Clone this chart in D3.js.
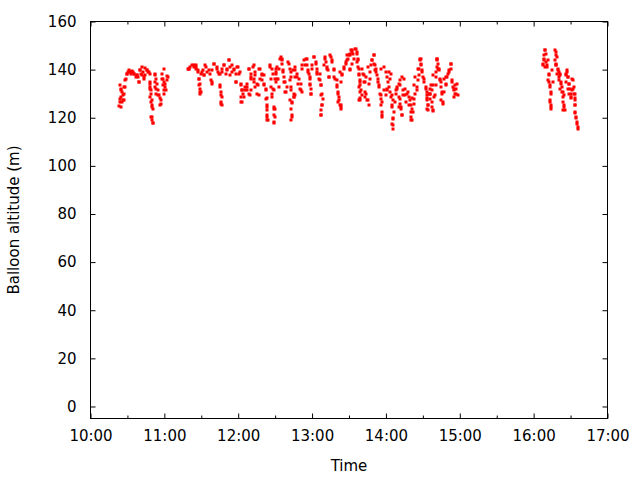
<!DOCTYPE html>
<html>
<head>
<meta charset="utf-8">
<script src="https://cdn.jsdelivr.net/npm/d3@7"></script>
<style>
  body { margin: 0; background: #fff; }
  text { font-family: "DejaVu Sans", sans-serif; font-size: 15px; fill: #000; }
</style>
</head>
<body>
<div id="chart"></div>
<script>
// minutes after 10:00 and altitude (m) in several passes
var firstTimes = [23.0, 23.8, 24.9, 24.9, 25.7, 26.5, 27.6, 28.4, 29.2, 29.8, 31.0, 32.5, 34.0, 35.2, 36.6, 37.9, 39.2, 40.6, 41.5, 42.0, 43.3, 44.0, 45.5, 47.4, 48.2, 48.7, 48.7, 49.3, 50.1, 50.1, 50.6, 52.3, 52.8, 53.6, 54.7, 56.3, 56.9, 58.2, 59.0, 59.6, 60.1, 60.9, 62.3];
var firstAlt   = [125.0, 126.6, 128.6, 132.1, 130.7, 127.3, 130.0, 132.8, 136.2, 138.3, 140.0, 139.0, 139.5, 138.3, 136.9, 137.6, 134.8, 139.7, 141.0, 137.6, 136.9, 140.5, 139.7, 139.0, 134.2, 132.1, 128.6, 126.5, 124.5, 120.3, 118.0, 137.6, 134.8, 132.1, 129.3, 128.0, 125.9, 136.2, 133.5, 140.4, 131.4, 134.2, 137.3];

var firstTimes2 = [23.8, 24.9, 26.5, 27.1, 23.8, 24.4, 25.7, 27.6, 28.4, 29.3, 30.3, 32.0, 33.0, 34.7, 35.7, 37.4, 38.5, 40.1, 41.2, 42.8, 43.9, 45.5, 46.6, 48.2, 39.3, 43.3, 48.2, 48.7, 49.3, 49.3, 50.1, 50.1, 50.9, 49.3, 50.1, 50.6, 52.3, 53.6, 54.2, 52.8, 54.7, 53.6, 55.5, 56.9, 56.3, 58.2, 59.0, 60.1, 60.9, 61.7, 62.3, 62.8, 59.6];
var firstAlt2   = [133.5, 131.4, 129.3, 127.3, 127.9, 124.5, 126.6, 132.8, 135.5, 138.3, 139.0, 139.0, 138.3, 139.0, 138.3, 137.6, 136.9, 139.7, 138.3, 139.0, 137.6, 139.7, 139.0, 138.3, 134.9, 136.2, 134.9, 132.8, 131.4, 130.0, 127.3, 125.2, 123.8, 120.3, 119.0, 117.9, 138.3, 136.2, 134.2, 132.8, 131.4, 130.0, 129.3, 127.3, 125.2, 138.3, 136.2, 134.9, 132.8, 131.4, 135.5, 136.9, 130.0];

var mainTimes = [79.0, 79.9, 81.2, 83.9, 83.9, 86.1, 86.1, 87.5, 88.0, 88.3, 88.8, 89.4, 90.7, 92.0, 94.2, 96.1, 98.9, 100.2, 102.9, 104.3, 105.6, 106.2, 106.4, 107.0, 108.3, 110.5, 112.4, 113.7, 115.1, 116.4, 118.6, 119.7, 121.3, 122.4, 123.2, 122.4, 122.7, 125.9, 127.3, 128.6, 130.0, 129.4, 132.2, 132.7, 134.0, 135.9, 136.7, 138.1, 139.5, 140.8, 142.2, 143.0, 143.0, 143.6, 144.0,
  145.7, 146.8, 148.4, 147.6, 148.9, 149.5, 149.5, 148.9, 150.3, 151.1, 151.7, 152.2, 153.0, 153.0, 153.8, 155.7, 156.6, 157.6, 159.2, 160.3, 161.9, 163.0, 163.9, 163.9, 165.2, 165.7, 166.5, 167.4, 168.4, 170.1, 172.0, 173.9, 175.5, 176.5, 178.2, 178.7, 179.3, 180.1, 181.4, 182.8, 184.2, 185.5, 186.9, 187.4, 187.7, 187.4, 189.5, 190.9, 192.3, 193.6, 195.0, 196.3, 198.2, 199.0, 199.9, 200.9, 201.7, 203.1, 202.5, 203.1, 203.9, 204.4, 205.8, 207.2, 208.5, 209.0, 210.7, 211.8, 212.6, 213.4, 214.5, 216.1, 217.2, 217.2, 218.0, 218.0, 218.3, 218.3, 218.8, 218.8, 219.3,
  220.7, 222.0, 223.4, 224.2, 225.3, 226.9, 228.8, 230.2, 231.0, 232.3, 233.4, 234.2, 235.6, 236.2, 237.0, 237.0, 238.3, 239.7, 241.0, 242.4, 243.2, 244.3, 245.1, 245.6, 245.6, 247.0, 247.8, 249.2, 250.5, 251.3, 252.4, 253.2, 254.0, 255.1, 255.9, 257.3, 258.6, 260.0, 260.5, 261.3, 262.7, 264.0, 265.9, 267.5, 268.1, 268.7, 269.5, 270.8, 272.2, 273.0, 273.5, 274.0, 274.9, 275.7, 276.2, 276.8, 277.6, 278.4, 278.4, 278.9, 280.3, 280.3, 281.1, 281.7, 282.2, 283.0, 283.8, 284.9, 285.7, 286.5, 287.0, 288.4, 289.8, 291.1, 292.5, 293.8, 295.2, 296.5, 297.3];
var mainAlt   = [140.4, 140.4, 141.1, 141.8, 141.1, 141.8, 140.4, 139.0, 136.2, 133.5, 130.7, 130.7, 139.0, 137.6, 141.1, 139.7, 134.8, 142.5, 140.4, 138.3, 133.5, 129.3, 125.9, 139.0, 141.8, 140.4, 143.8, 141.1, 139.0, 140.4, 134.8, 141.1, 139.0, 133.5, 131.4, 128.6, 126.5, 131.4, 132.8, 140.4, 136.9, 129.3, 141.1, 136.2, 139.0, 133.5, 129.3, 140.4, 137.6, 134.2, 132.1, 128.0, 124.5, 121.0, 119.0,
  141.1, 136.2, 132.1, 128.6, 124.5, 123.8, 120.3, 118.0, 139.0, 140.4, 136.2, 136.2, 132.8, 140.4, 144.5, 144.5, 139.0, 134.8, 130.7, 143.1, 140.4, 136.9, 126.5, 120.3, 130.0, 128.6, 139.7, 136.9, 134.2, 132.1, 140.4, 141.8, 144.5, 139.0, 136.9, 133.5, 130.0, 140.4, 145.2, 142.5, 139.0, 136.2, 133.5, 129.3, 125.2, 121.0, 141.8, 144.5, 140.4, 136.9, 145.2, 143.1, 140.4, 136.2, 133.5, 130.0, 127.3, 124.5, 139.0, 134.8, 125.2, 137.6, 140.4, 143.1, 145.9, 144.5, 145.9, 148.0, 147.3, 146.6, 148.7, 147.3, 144.5, 143.8, 137.6, 140.4, 132.8, 127.3, 134.8, 130.7, 128.0,
  140.4, 137.6, 134.8, 130.0, 127.3, 136.2, 143.8, 145.9, 141.8, 139.0, 136.2, 133.5, 140.4, 129.3, 126.5, 121.0, 131.4, 129.3, 132.1, 139.0, 136.2, 128.6, 125.2, 119.7, 116.9, 126.5, 130.0, 132.1, 128.6, 133.5, 124.5, 121.0, 129.3, 132.1, 126.5, 130.0, 125.2, 122.4, 119.0, 128.0, 133.5, 136.9, 140.4, 143.8, 144.5, 141.8, 139.0, 136.2, 132.1, 128.0, 123.8, 125.2, 130.0, 130.0, 132.1, 133.5, 126.5, 137.6, 123.1, 128.6, 139.0, 133.5, 144.5, 143.8, 140.4, 140.4, 136.2, 134.8, 130.7, 126.5, 136.2, 133.5, 136.9, 139.0, 142.5, 134.8, 132.1, 133.5, 130.0];

// 11:20 - 11:53
var midTimes = [79.9, 82.6, 85.3, 87.2, 89.4, 91.5, 93.4, 94.8, 96.9, 98.8, 100.2, 102.4, 103.4, 105.1, 107.0, 108.3, 109.7, 111.0, 112.4, 113.2, 88.0, 88.8, 88.8, 88.8, 92.1, 97.5, 98.8, 105.6, 106.2, 107.0, 106.4, 107.0];
var midAlt   = [140.4, 141.8, 141.1, 139.7, 138.3, 139.7, 141.8, 139.0, 138.3, 139.7, 142.4, 141.1, 139.0, 138.3, 140.4, 141.8, 138.3, 139.7, 143.8, 137.6, 136.2, 134.2, 132.1, 130.0, 137.6, 135.5, 134.2, 132.8, 130.7, 128.6, 126.6, 125.2];

// 11:55 - 13:31
var noonTimes = [115.1, 116.4, 117.8, 119.2, 117.8, 120.5, 121.9, 123.2, 124.0, 121.9,
  124.6, 125.9, 127.3, 126.8, 128.6, 130.5, 132.7, 134.0, 136.8, 139.5,
  130.0, 132.7, 135.4, 138.1, 128.6, 130.0, 134.0, 135.4, 139.5, 140.8,
  140.8, 142.2, 142.2, 143.0, 143.5, 143.5, 143.0, 146.2, 147.6, 148.4,
  149.5, 150.3, 146.8, 148.9, 147.6, 151.7, 151.1, 149.2, 149.0, 148.9,
  154.4, 155.7, 156.6, 157.6, 158.4, 159.8, 158.4, 155.7, 161.1, 162.5,
  162.0, 163.0, 162.5, 162.0, 163.0, 163.3, 162.5, 164.7, 166.5, 167.9,
  169.2, 170.6, 170.6, 171.9, 171.9, 173.3, 166.5, 163.8, 165.2, 166.5,
  174.7, 175.5, 176.5, 177.4, 178.7, 178.2, 179.3, 179.3, 180.1, 181.4,
  182.8, 183.6, 184.1, 186.3, 186.8, 187.4, 188.2, 189.0, 188.2, 187.4,
  187.4, 190.9, 191.7, 192.3, 192.8, 193.6, 194.4, 196.3, 197.7, 198.2,
  199.9, 200.4, 200.9, 201.8, 200.9, 202.6, 203.1, 204.5, 205.8, 207.2,
  208.5, 209.9, 210.7];
var noonAlt = [141.8, 139.7, 138.3, 141.1, 134.9, 138.3, 134.2, 131.4, 130.0, 126.6,
  128.6, 132.8, 131.4, 134.2, 140.4, 138.3, 141.8, 137.6, 140.4, 138.3,
  136.2, 134.9, 134.2, 136.2, 130.0, 131.4, 132.8, 130.0, 135.5, 137.6,
  133.5, 131.4, 127.9, 125.2, 123.1, 120.3, 119.0, 141.8, 140.4, 138.3,
  136.2, 134.9, 132.8, 131.4, 130.0, 141.1, 138.3, 123.8, 121.0, 118.3,
  145.2, 142.4, 139.7, 136.9, 134.9, 132.8, 130.7, 143.8, 142.4, 139.0,
  135.5, 132.8, 131.4, 127.3, 123.8, 121.0, 119.0, 139.7, 141.1, 138.3,
  136.2, 134.2, 131.4, 130.7, 141.8, 143.8, 129.3, 126.0, 128.6, 136.9,
  144.5, 141.8, 139.7, 138.3, 136.2, 134.2, 132.1, 130.0, 141.8, 145.2,
  143.1, 140.4, 138.3, 138.3, 135.5, 133.5, 130.0, 127.9, 125.2, 123.1,
  121.0, 145.2, 143.1, 141.1, 139.7, 136.9, 145.9, 143.8, 139.7, 136.9,
  135.5, 132.8, 130.7, 128.6, 126.6, 125.2, 123.8, 138.3, 141.1, 142.4,
  143.8, 145.9, 139.7];

// 13:31 - 14:58
var afternoonTimes = [211.2, 212.6, 213.9, 215.3, 216.6, 212.6, 211.2, 216.1, 217.2, 218.0,
  218.8, 219.3, 219.9, 220.7, 218.8, 222.1, 223.4, 222.6, 224.8, 226.1,
  221.5, 224.2, 225.3, 226.9, 226.1, 228.0, 228.8, 230.2, 230.7, 231.5,
  232.9, 233.4, 234.2, 235.0, 235.6, 236.1, 236.9, 236.9, 232.3, 238.8,
  239.7, 241.0, 241.6, 242.4, 243.2, 240.5, 244.3, 245.1, 245.9, 245.1,
  246.4, 245.9, 245.3, 245.6, 247.8, 249.1, 250.5, 251.8, 253.2, 254.6,
  253.9, 255.1, 251.8, 251.3, 252.4, 253.2, 250.5, 257.8, 258.6, 259.4,
  260.0, 261.3, 262.2, 260.5, 260.8, 262.7, 263.2, 264.0, 264.9, 265.4,
  265.9, 266.7, 266.7, 267.5, 268.6, 269.4, 270.2, 271.3, 272.2, 273.0,
  273.5, 273.0, 274.0, 274.0, 275.7, 276.2, 277.6, 278.4, 277.6, 278.4,
  279.5, 280.3, 281.1, 281.6, 282.2, 283.0, 284.0, 284.9, 285.7, 284.9,
  286.5, 287.0, 288.4, 289.2, 290.3, 291.1, 292.5, 293.0, 293.8, 294.6,
  295.7, 296.5, 297.3, 297.9, 298.4, 295.2];
var afternoonAlt = [146.6, 148.0, 144.5, 148.7, 146.6, 142.4, 140.4, 143.1, 141.1, 138.3,
  135.5, 133.5, 131.4, 129.3, 127.3, 134.9, 130.7, 128.6, 127.3, 125.2,
  138.3, 136.9, 141.1, 139.0, 134.2, 141.8, 143.8, 145.9, 142.4, 139.7,
  137.6, 134.9, 132.8, 130.0, 127.9, 125.2, 122.4, 120.3, 140.4, 141.1,
  139.0, 136.9, 134.9, 132.8, 130.7, 131.4, 138.3, 129.3, 127.3, 124.5,
  122.4, 119.6, 117.6, 115.5, 131.4, 132.8, 134.2, 135.5, 136.9, 136.2,
  131.4, 129.3, 127.9, 125.9, 123.8, 121.0, 124.5, 130.7, 128.6, 127.3,
  125.2, 123.8, 122.4, 120.3, 119.0, 125.9, 127.9, 130.0, 131.4, 132.8,
  135.5, 137.6, 140.4, 144.5, 142.4, 139.7, 136.9, 134.9, 132.8, 130.7,
  129.3, 127.3, 125.2, 123.1, 127.9, 130.0, 131.4, 133.5, 124.5, 122.8,
  129.3, 136.9, 141.1, 144.5, 142.4, 139.7, 135.5, 132.8, 130.0, 127.3,
  125.9, 130.7, 134.2, 136.9, 138.3, 139.7, 142.4, 140.4, 135.5, 132.8,
  131.4, 130.0, 132.1, 134.2, 129.3, 128.6];

var lateTimes = [367.8, 368.3, 368.8, 369.6, 370.4, 371.0, 372.4, 372.4, 373.2, 373.7, 373.2, 374.3, 375.1, 375.9, 377.8, 378.6, 377.8, 379.7, 381.3, 380.5, 382.4, 381.8, 383.2, 384.0, 384.6, 384.0, 386.0, 387.3, 387.8, 388.6, 389.4, 390.0, 390.5, 391.3, 392.1, 392.6, 393.2, 394.0, 394.0, 394.8, 395.4, 395.9];
var lateAlt   = [141.8, 143.8, 145.9, 148.0, 143.1, 141.1, 137.6, 134.8, 132.8, 130.0, 126.5, 124.5, 139.7, 134.8, 147.3, 145.2, 141.8, 139.7, 138.3, 136.9, 134.8, 132.1, 130.7, 128.6, 125.2, 123.1, 137.6, 139.7, 136.9, 134.2, 132.1, 128.0, 130.0, 136.2, 132.1, 130.0, 128.0, 125.2, 121.8, 119.7, 117.6, 115.5];

var lateTimes2 = [369.1, 370.2, 368.3, 367.5, 369.1, 371.0, 371.8, 372.4, 371.8, 372.9,
  373.7, 372.9, 373.7, 374.5, 377.2, 378.3, 377.2, 378.3, 379.9, 379.1,
  377.8, 380.5, 381.8, 381.0, 382.6, 383.2, 383.7, 384.5, 383.7, 384.5,
  385.4, 385.9, 387.2, 388.1, 386.4, 388.6, 388.1, 389.1, 390.0, 390.8,
  391.9, 392.7, 393.5, 394.0, 393.5, 394.0, 394.6, 395.4, 396.2];
var lateAlt2 = [148.0, 146.6, 144.5, 142.4, 141.1, 141.8, 143.8, 138.3, 135.5, 133.5,
  130.7, 127.3, 125.2, 123.8, 148.0, 145.9, 143.8, 141.8, 140.4, 138.3,
  142.4, 139.0, 137.6, 135.5, 134.2, 132.8, 130.7, 129.3, 126.6, 124.5,
  123.1, 138.3, 139.0, 136.9, 134.9, 134.2, 132.1, 130.0, 128.6, 131.4,
  135.5, 132.8, 130.0, 127.3, 125.2, 122.4, 120.3, 118.3, 116.2];

var yTicks = [0, 20, 40, 60, 80, 100, 120, 140, 160];

var width = 640, height = 480;
var plotLeft = 90.5, plotRight = 607.5, plotTop = 21.5, plotBottom = 418.5;

var base = new Date(2000, 0, 1, 10, 0, 0);
var end = new Date(2000, 0, 1, 17, 0, 0);
function toDate(m) { return new Date(base.getTime() + m * 60000); }

var points = [];
function addPoints(times, alts) {
  times.forEach(function(t, i) { points.push({ t: toDate(t), v: alts[i] }); });
}
addPoints(firstTimes, firstAlt);
addPoints(firstTimes2, firstAlt2);
addPoints(mainTimes, mainAlt);
addPoints(midTimes, midAlt);
addPoints(noonTimes, noonAlt);
addPoints(afternoonTimes, afternoonAlt);
addPoints(lateTimes, lateAlt);
addPoints(lateTimes2, lateAlt2);

var x = d3.scaleTime()
  .domain([base, end])
  .range([plotLeft, plotRight]);
var y = d3.scaleLinear()
  .domain([-5, 160])
  .range([plotBottom, plotTop]);

var svg = d3.select("#chart").append("svg")
  .attr("width", width)
  .attr("height", height);

var hours = d3.timeHour.range(base, new Date(2000, 0, 1, 17, 1, 0));
var halfHours = d3.timeMinute.every(30).range(base, end)
  .filter(function(d) { return d.getMinutes() === 30; });

// bottom axis, ticks pointing inwards like gnuplot
svg.append("g")
  .attr("transform", "translate(0," + plotBottom + ")")
  .call(d3.axisBottom(x)
    .tickValues(hours)
    .tickFormat(d3.timeFormat("%H:%M"))
    .tickSizeInner(-5)
    .tickSizeOuter(0)
    .tickPadding(12));
svg.append("g")
  .attr("transform", "translate(0," + plotBottom + ")")
  .call(d3.axisBottom(x).tickValues(halfHours).tickFormat("").tickSizeInner(-3).tickSizeOuter(0));

// top mirror
svg.append("g")
  .attr("transform", "translate(0," + plotTop + ")")
  .call(d3.axisTop(x).tickValues(hours).tickFormat("").tickSizeInner(-5).tickSizeOuter(0));
svg.append("g")
  .attr("transform", "translate(0," + plotTop + ")")
  .call(d3.axisTop(x).tickValues(halfHours).tickFormat("").tickSizeInner(-3).tickSizeOuter(0));

svg.append("g")
  .attr("transform", "translate(" + plotLeft + ",0)")
  .call(d3.axisLeft(y)
    .tickValues(yTicks)
    .tickSizeInner(-5)
    .tickSizeOuter(0)
    .tickPadding(14));
svg.append("g")
  .attr("transform", "translate(" + plotRight + ",0)")
  .call(d3.axisRight(y).tickValues(yTicks).tickFormat("").tickSizeInner(-5).tickSizeOuter(0));

svg.selectAll(".domain").remove();
svg.selectAll(".tick line").attr("stroke", "#000");
svg.selectAll(".tick text")
  .style("font-family", "'DejaVu Sans', sans-serif")
  .style("font-size", "15px")
  .attr("fill", "#000");

svg.append("rect")
  .attr("x", plotLeft).attr("y", plotTop)
  .attr("width", plotRight - plotLeft).attr("height", plotBottom - plotTop)
  .attr("fill", "none")
  .attr("stroke", "#000")
  .attr("stroke-width", 1);

svg.append("g").selectAll("rect")
  .data(points)
  .enter().append("rect")
  .attr("x", function(d) { return Math.round(x(d.t)) - 1.5; })
  .attr("y", function(d) { return Math.round(y(d.v)) - 1.5; })
  .attr("width", 3)
  .attr("height", 3)
  .attr("fill", "#ff0000");

svg.append("text")
  .attr("x", (plotLeft + plotRight) / 2)
  .attr("y", 471)
  .attr("text-anchor", "middle")
  .text("Time");

svg.append("text")
  .attr("transform", "translate(19," + (plotTop + plotBottom) / 2 + ") rotate(-90)")
  .attr("text-anchor", "middle")
  .text("Balloon altitude (m)");
</script>
</body>
</html>
